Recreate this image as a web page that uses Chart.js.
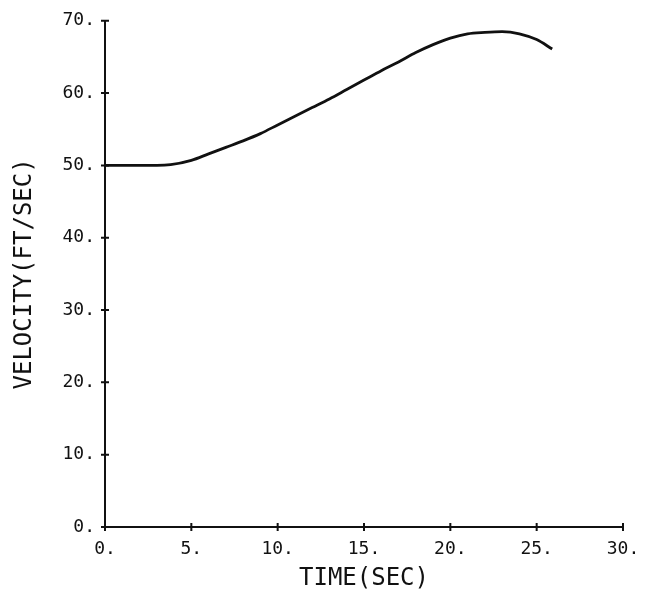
<!DOCTYPE html>
<html>
<head>
<meta charset="utf-8">
<script src="https://cdn.jsdelivr.net/npm/chart.js@4"></script>
<style>
  html, body { margin: 0; padding: 0; background: #fff; }
  canvas { display: block; }
</style>
</head>
<body>
<canvas id="chart" width="659" height="603"></canvas>
<script>
const TIME = [0, 1, 2, 3, 3.8, 5, 6, 7, 8, 9, 10, 11, 12, 13, 14, 15, 16, 17, 18, 19, 20, 21, 22, 23, 24, 25, 25.9]
const VELOCITY = [50, 50, 50, 50, 50.1, 50.7, 51.6, 52.5, 53.4, 54.4, 55.6, 56.8, 58.0, 59.2, 60.5, 61.8, 63.1, 64.3, 65.6, 66.7, 67.6, 68.2, 68.4, 68.5, 68.2, 67.4, 66.1]
const X_TITLE = "TIME(SEC)"
const Y_TITLE = "VELOCITY(FT/SEC)"

const INK = "#111"
const FONT_FAMILY = "'DejaVu Sans Mono', 'Liberation Mono', monospace"

// plotter style tick marks that cross the axis line
const crossTicks = {
  id: "crossTicks",
  afterDraw(chart) {
    const { ctx, chartArea, scales } = chart
    ctx.save()
    ctx.strokeStyle = INK
    ctx.lineWidth = 2
    ctx.beginPath()
    scales.x.ticks.forEach((t) => {
      const px = scales.x.getPixelForValue(t.value)
      ctx.moveTo(px, chartArea.bottom - 4)
      ctx.lineTo(px, chartArea.bottom + 4)
    })
    scales.y.ticks.forEach((t) => {
      const py = scales.y.getPixelForValue(t.value)
      ctx.moveTo(chartArea.left - 4, py)
      ctx.lineTo(chartArea.left + 4, py)
    })
    ctx.stroke()
    ctx.restore()
  },
}

new Chart(document.getElementById("chart"), {
  type: "line",
  data: {
    datasets: [
      {
        data: TIME.map((t, i) => ({ x: t, y: VELOCITY[i] })),
        borderColor: INK,
        borderWidth: 2.8,
        pointRadius: 0,
        cubicInterpolationMode: "monotone",
        fill: false,
      },
    ],
  },
  options: {
    responsive: false,
    animation: false,
    layout: { padding: { top: 16, right: 36, left: 0, bottom: 0 } },
    scales: {
      x: {
        type: "linear",
        min: 0,
        max: 30,
        afterFit: (s) => { s.height = 76 },
        ticks: {
          stepSize: 5,
          color: INK,
          padding: 12,
          maxRotation: 0,
          font: { family: FONT_FAMILY, size: 18 },
          callback: (v) => `${v}.`,
        },
        grid: { drawOnChartArea: false, drawTicks: false },
        border: { color: INK, width: 2 },
        title: {
          display: true,
          text: X_TITLE,
          color: INK,
          font: { family: FONT_FAMILY, size: 24 },
          padding: { top: 0, bottom: 10 },
        },
      },
      y: {
        min: 0,
        max: 70,
        afterFit: (s) => { s.width = 105 },
        ticks: {
          stepSize: 10,
          color: INK,
          padding: 10,
          font: { family: FONT_FAMILY, size: 18 },
          callback: (v) => `${v}.`,
        },
        grid: { drawOnChartArea: false, drawTicks: false },
        border: { color: INK, width: 2 },
        title: {
          display: true,
          text: Y_TITLE,
          color: INK,
          font: { family: FONT_FAMILY, size: 24 },
          padding: { top: 10, bottom: 0 },
        },
      },
    },
    plugins: {
      legend: { display: false },
      tooltip: { enabled: false },
    },
  },
  plugins: [crossTicks],
})
</script>
</body>
</html>
